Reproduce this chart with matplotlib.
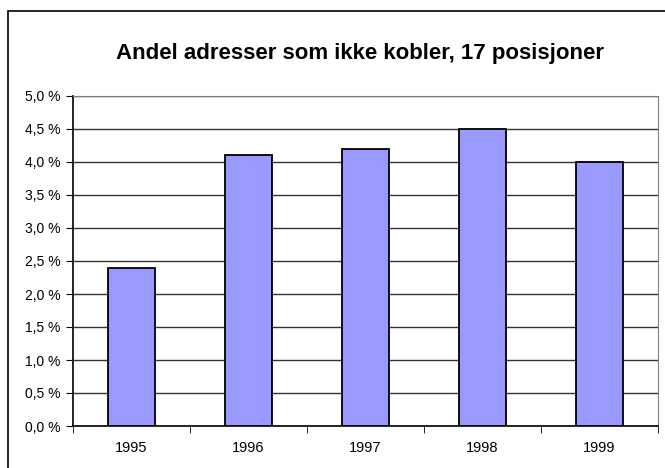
import matplotlib
matplotlib.use("Agg")
import matplotlib.pyplot as plt
from matplotlib.patches import Rectangle

years = ["1995", "1996", "1997", "1998", "1999"]
share = [2.4, 4.1, 4.2, 4.5, 4.0]
yticks = [0.0, 0.5, 1.0, 1.5, 2.0, 2.5, 3.0, 3.5, 4.0, 4.5, 5.0]
ylabels = [("%.1f %%" % v).replace(".", ",") for v in yticks]

plt.rcParams["font.family"] = ["Liberation Sans", "DejaVu Sans"]

W, H = 665, 468
fig = plt.figure(figsize=(W / 100, H / 100), dpi=100)
# outer frame of the chart (right and bottom edges fall outside the image)
fig.patches.append(Rectangle((8 / W, -10 / H), 700 / W, (H - 11 + 10) / H,
                             transform=fig.transFigure, fill=False,
                             edgecolor="black", linewidth=1.2, clip_on=False))

ax = fig.add_axes([73 / W, 1 - 426 / H, (658 - 73) / W, (426 - 96) / H])
x = range(len(years))
ax.bar(x, share, width=0.4, color="#9999ff", edgecolor="black", linewidth=1.3, zorder=3)

ax.set_xlim(-0.5, len(years) - 0.5)
ax.set_ylim(0, 5.0)
ax.set_yticks(yticks)
ax.set_yticklabels(ylabels, fontsize=10)
ax.set_xticks(list(x))
ax.set_xticklabels(years, fontsize=10.5)
ax.tick_params(axis="x", length=0, pad=11)
ax.set_xticks([i + 0.5 for i in range(-1, len(years))], minor=True)
ax.tick_params(axis="x", which="minor", length=5, direction="out", color="black")
ax.tick_params(axis="y", length=5, direction="out", color="black", pad=4)
ax.grid(axis="y", color="#333333", linewidth=1.0, zorder=0)

for side in ["top", "right"]:
    ax.spines[side].set_color("#808080")
for side in ["left", "bottom"]:
    ax.spines[side].set_color("black")
    ax.spines[side].set_linewidth(1.2)

fig.text(360.5 / W, 1 - 53 / H, "Andel adresser som ikke kobler, 17 posisjoner",
         ha="center", va="center", fontsize=16, fontweight="bold")

fig.savefig("out.png", dpi=100)
